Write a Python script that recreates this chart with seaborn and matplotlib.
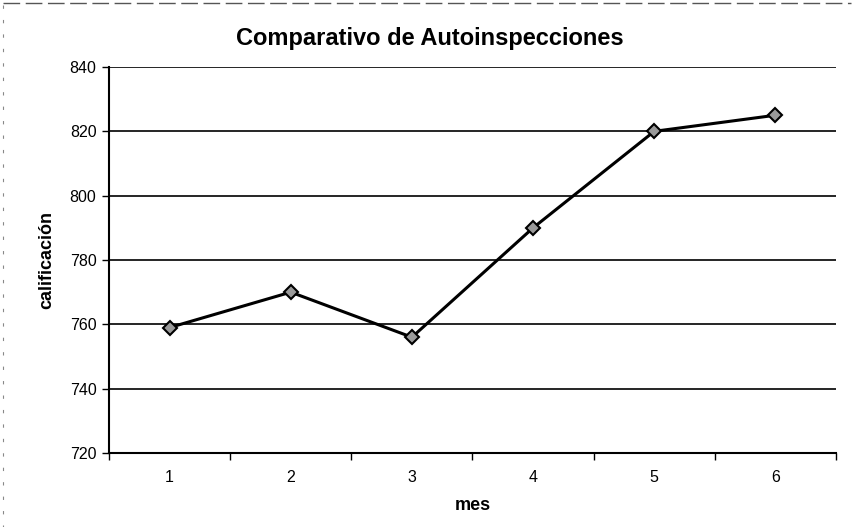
import matplotlib
matplotlib.use("Agg")
import matplotlib.pyplot as plt
import seaborn as sns
import pandas as pd
from matplotlib.lines import Line2D

meses = ["1", "2", "3", "4", "5", "6"]
calificacion = [759, 770, 756, 790, 820, 825]
y_ticks = [720, 740, 760, 780, 800, 820, 840]

df = pd.DataFrame({"pos": range(len(meses)), "mes": meses, "calificacion": calificacion})

sns.set_theme(style="white")
plt.rcParams["font.family"] = ["Liberation Sans", "DejaVu Sans"]
plt.rcParams["text.color"] = "black"
plt.rcParams["axes.labelcolor"] = "black"
plt.rcParams["xtick.color"] = "black"
plt.rcParams["ytick.color"] = "black"

fig = plt.figure(figsize=(8.54, 5.27), dpi=100)
ax = fig.add_axes([109/854, 1-453/527, (836-109)/854, (453-67)/527])

sns.lineplot(data=df, x="pos", y="calificacion", ax=ax, color="black", linewidth=2.2,
             marker="D", markersize=7, markerfacecolor="#9a9a9a", markeredgecolor="black",
             markeredgewidth=1.5)

ax.set_xlim(-0.5, len(meses) - 0.5)
ax.set_ylim(720, 840)
ax.set_yticks(y_ticks)
ax.set_yticklabels([str(v) for v in y_ticks], fontsize=11.5, color="black")
ax.set_xticks(range(len(meses)))
ax.set_xticklabels(meses, fontsize=11.5, color="black")
ax.set_xticks([i - 0.5 for i in range(len(meses) + 1)], minor=True)
ax.tick_params(axis="x", which="major", length=0, pad=12)
ax.tick_params(axis="x", which="minor", length=5, width=1, color="black", direction="out", bottom=True)
ax.tick_params(axis="y", which="major", length=5, width=1, color="black", direction="out", left=True, pad=4)

for v in y_ticks[1:]:
    ax.axhline(v, color="black", linewidth=1.2, zorder=0)

for side in ["top", "right"]:
    ax.spines[side].set_visible(False)
for side in ["left", "bottom"]:
    ax.spines[side].set_color("black")
    ax.spines[side].set_linewidth(1.5)

ax.set_xlabel("mes", fontsize=13, fontweight="bold", labelpad=9, color="black")
ax.set_ylabel("calificación", fontsize=13, fontweight="bold", labelpad=10, color="black")
fig.text(0.503, 1-39/527, "Comparativo de Autoinspecciones", ha="center", va="center",
         fontsize=17, fontweight="bold", color="black")

# scan border lines
fig.add_artist(Line2D([0.003, 0.997], [0.994, 0.994], transform=fig.transFigure,
                      color="#555555", linewidth=1, linestyle=(0, (12, 4))))
fig.add_artist(Line2D([0.004, 0.004], [0.99, 0.0], transform=fig.transFigure,
                      color="#888888", linewidth=0.8, linestyle=(0, (3, 10))))

fig.savefig("out.png", dpi=100, facecolor="white")
